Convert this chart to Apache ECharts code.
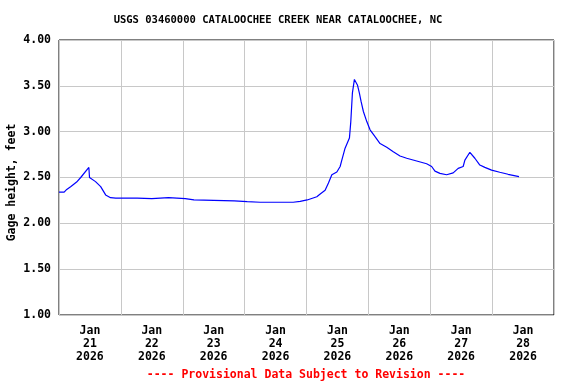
<!DOCTYPE html>
<html><head><meta charset="utf-8">
<script src="https://cdn.jsdelivr.net/npm/echarts@6/dist/echarts.min.js"></script>
<style>html,body{margin:0;padding:0;background:#fff}#c{width:576px;height:384px}</style>
</head><body><div id="c"></div>
<script>
var titleText = "USGS 03460000 CATALOOCHEE CREEK NEAR CATALOOCHEE, NC";
var footerText = "---- Provisional Data Subject to Revision ----";
var yAxisName = "Gage height, feet";
var startTime = "2026-01-21T00:00";
var dayLabels = ["Jan\n21\n2026","Jan\n22\n2026","Jan\n23\n2026","Jan\n24\n2026","Jan\n25\n2026","Jan\n26\n2026","Jan\n27\n2026","Jan\n28\n2026"];
var times = [
"2026-01-21T00:00","2026-01-21T02:00","2026-01-21T03:00","2026-01-21T04:30","2026-01-21T06:50","2026-01-21T08:25",
"2026-01-21T11:35","2026-01-21T11:50","2026-01-21T12:15","2026-01-21T14:10","2026-01-21T16:10","2026-01-21T18:05",
"2026-01-21T20:00","2026-01-21T22:00","2026-01-22T06:20","2026-01-22T12:00","2026-01-22T18:30","2026-01-23T01:00",
"2026-01-23T04:20","2026-01-23T12:00","2026-01-23T20:00","2026-01-24T01:00","2026-01-24T06:00","2026-01-24T18:50",
"2026-01-24T21:33","2026-01-25T00:16","2026-01-25T04:00","2026-01-25T05:19","2026-01-25T07:13","2026-01-25T08:31",
"2026-01-25T09:50","2026-01-25T11:46","2026-01-25T13:03","2026-01-25T13:42","2026-01-25T14:58","2026-01-25T16:39",
"2026-01-25T17:11","2026-01-25T17:48","2026-01-25T18:35","2026-01-25T19:08","2026-01-25T19:45","2026-01-25T20:31",
"2026-01-25T21:10","2026-01-25T22:04","2026-01-25T23:23","2026-01-26T00:39","2026-01-26T02:35","2026-01-26T04:32",
"2026-01-26T07:07","2026-01-26T09:40","2026-01-26T12:16","2026-01-26T14:52","2026-01-26T18:44","2026-01-26T22:36",
"2026-01-27T00:33","2026-01-27T01:50","2026-01-27T03:45","2026-01-27T06:21","2026-01-27T08:54","2026-01-27T10:50",
"2026-01-27T12:46","2026-01-27T13:26","2026-01-27T15:22","2026-01-27T17:18","2026-01-27T19:14","2026-01-27T21:11",
"2026-01-27T23:47","2026-01-28T02:58","2026-01-28T06:11","2026-01-28T10:26"
];
var gageHeight = [
2.34,2.34,2.37,2.40,2.45,2.50,
2.61,2.50,2.49,2.455,2.40,2.31,
2.28,2.275,2.275,2.27,2.28,2.27,
2.255,2.25,2.245,2.236,2.23,2.23,
2.24,2.255,2.29,2.32,2.36,2.44,
2.53,2.56,2.62,2.69,2.82,2.93,
3.11,3.42,3.57,3.58,3.51,3.42,
3.33,3.22,3.11,3.02,2.945,2.87,
2.83,2.78,2.735,2.71,2.68,2.65,
2.62,2.57,2.545,2.53,2.55,2.60,
2.62,2.69,2.775,2.71,2.636,2.61,
2.58,2.557,2.535,2.51
];

var t0 = Date.parse(startTime);
var seriesData = times.map(function(s,i){ return [(Date.parse(s)-t0)/3600000, gageHeight[i]]; });
var font = "DejaVu Sans Mono";
var chart = echarts.init(document.getElementById('c'));
chart.setOption({
  animation:false,
  grid:{left:59,right:22,top:40,bottom:69,show:true,borderColor:'#000',borderWidth:1,backgroundColor:'#fff',
        containLabel:false,outerBoundsMode:'none'},
  graphic:[
    {type:'text',x:278,y:20,style:{text:titleText,font:'bold 10.5px "DejaVu Sans Mono"',fill:'#000',align:'center',verticalAlign:'middle'}},
    {type:'text',x:306,y:375,style:{text:footerText,font:'bold 11.5px "DejaVu Sans Mono"',fill:'#ff0000',align:'center',verticalAlign:'middle'}}
  ],
  xAxis:[
    {type:'value',min:0,max:192,interval:24,axisLine:{show:false},axisTick:{show:false},axisLabel:{show:false},
     splitLine:{show:true,lineStyle:{color:'#c8c8c8',width:1}}},
    {type:'value',min:0,max:192,interval:12,position:'bottom',axisLine:{show:false},axisTick:{show:false},splitLine:{show:false},
     axisLabel:{show:true,margin:10,lineHeight:13,fontFamily:font,fontWeight:'bold',fontSize:11.5,color:'#000',
       formatter:function(v){ return (v%24===12)? dayLabels[(v-12)/24] : ''; }}}
  ],
  yAxis:{type:'value',min:1,max:4,interval:0.5,name:yAxisName,nameLocation:'middle',nameGap:41,nameMoveOverlap:false,
    nameTextStyle:{fontFamily:font,fontWeight:'bold',fontSize:11.5,color:'#000',padding:[0,0,0,-10]},
    axisLine:{show:false},axisTick:{show:false},
    axisLabel:{margin:8,fontFamily:font,fontWeight:'bold',fontSize:11.5,color:'#000',formatter:function(v){return v.toFixed(2);}},
    splitLine:{show:true,lineStyle:{color:'#c8c8c8',width:1}}},
  series:[{type:'line',xAxisIndex:0,data:seriesData,showSymbol:false,lineStyle:{color:'#0000ff',width:1.2},itemStyle:{color:'#0000ff'}}]
});
</script></body></html>
